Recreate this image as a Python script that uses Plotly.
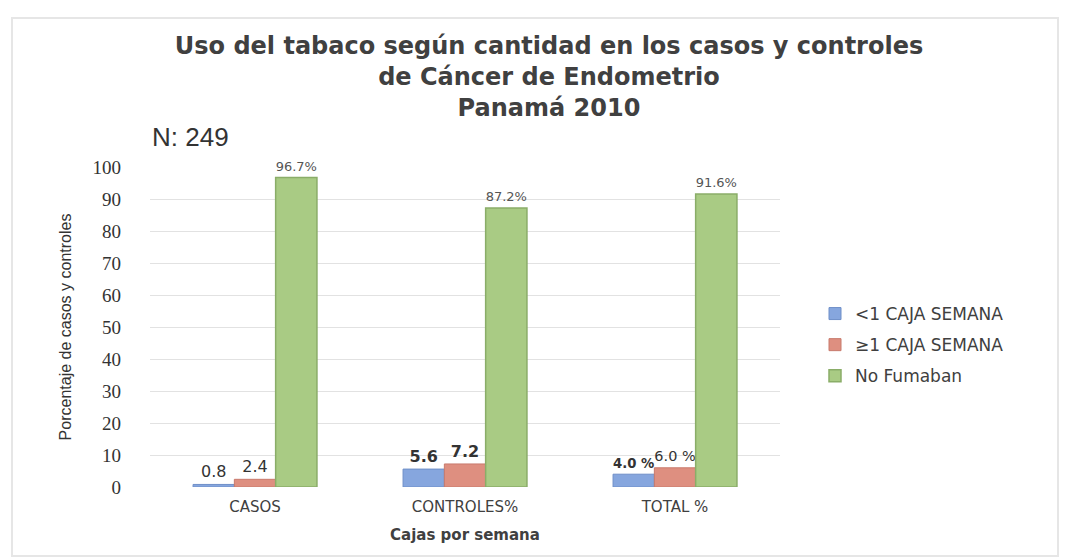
import plotly.graph_objects as go

categories = ["CASOS", "CONTROLES%", "TOTAL %"]
menos_1 = [0.8, 5.6, 4.0]
mas_1 = [2.4, 7.2, 6.0]
no_fumaban = [96.7, 87.2, 91.6]
menos_1_txt = ["0.8", "<b>5.6</b>", "<b>4.0 %</b>"]
mas_1_txt = ["2.4", "<b>7.2</b>", "6.0 %"]
no_fum_txt = ["96.7%", "87.2%", "91.6%"]
series_names = ["<1 CAJA SEMANA", "≥1 CAJA SEMANA", "No Fumaban"]
y_ticks = list(range(0, 101, 10))

L, T, PW, PH = 142, 159, 630, 320

fig = go.Figure()
fig.add_trace(go.Bar(x=categories, y=menos_1, name=series_names[0], text=menos_1_txt, legendgroup="a",
                     textposition="outside", marker=dict(color="#86a6de", line=dict(color="#6f8fc8", width=1)),
                     textfont=dict(family="DejaVu Sans", size=16, color="#333333")))
fig.add_trace(go.Bar(x=categories, y=mas_1, name=series_names[1], text=mas_1_txt, legendgroup="b",
                     textposition="outside", marker=dict(color="#de8f80", line=dict(color="#c87a6c", width=1)),
                     textfont=dict(family="DejaVu Sans", size=16, color="#333333")))
fig.add_trace(go.Bar(x=categories, y=no_fumaban, name=series_names[2], text=no_fum_txt, legendgroup="c",
                     textposition="outside", marker=dict(color="#a9cb84", line=dict(color="#8aad68", width=1.5)),
                     textfont=dict(family="DejaVu Sans", size=15, color="#555555")))

fig.update_layout(
    width=1071, height=558,
    paper_bgcolor="white", plot_bgcolor="white",
    margin=dict(l=L, r=1071 - L - PW, t=T, b=558 - T - PH),
    barmode="group", bargap=0.41, bargroupgap=0.0,
    title=dict(text="Uso del tabaco según cantidad en los casos y controles<br>de Cáncer de Endometrio<br>Panamá 2010",
               x=(549 - 8) / 1071, xanchor="center", y=1 - 46 / 558, yanchor="top",
               font=dict(family="DejaVu Sans", size=24, color="#404040", weight="bold")),
    showlegend=True,
    legend=dict(x=(815 - 8 - L) / PW, y=(479 - 288) / PH, xanchor="left", yanchor="top",
                font=dict(family="DejaVu Sans", size=17, color="#404040"),
                tracegroupgap=6, itemwidth=30, bgcolor="rgba(0,0,0,0)"),
    xaxis=dict(showline=False, ticks="", ticklabelstandoff=9,
               tickfont=dict(family="DejaVu Sans", size=15, color="#404040"),
               title=dict(text="Cajas por semana", standoff=14,
                          font=dict(family="DejaVu Sans", size=15, color="#404040", weight="bold"))),
    yaxis=dict(range=[0, 100], tickvals=y_ticks, showgrid=True, gridcolor="#e2e2e2",
               zeroline=False, showline=False, ticks="", ticklabelstandoff=28,
               tickfont=dict(family="Liberation Serif", size=19, color="#333333"),
               title=dict(text="Porcentaje de casos y controles", standoff=16,
                          font=dict(family="Liberation Sans Narrow, Liberation Sans", size=16, color="#333333"))),
)
fig.add_annotation(text="N: 249", xref="paper", yref="paper", x=(150 - 8 - L) / PW, y=(479 - 129) / PH,
                   xanchor="left", yanchor="middle", showarrow=False,
                   font=dict(family="Liberation Sans Narrow, Liberation Sans", size=26, color="#333333"))
fig.update_traces(cliponaxis=False)
fig.add_shape(type="rect", xref="paper", yref="paper",
              x0=(12 - 8 - L) / PW, x1=(1058 - 8 - L) / PW, y0=(479 - 548) / PH, y1=(479 - 10) / PH,
              line=dict(color="#e6e6e6", width=2), layer="below")
fig.write_html("out.html")
